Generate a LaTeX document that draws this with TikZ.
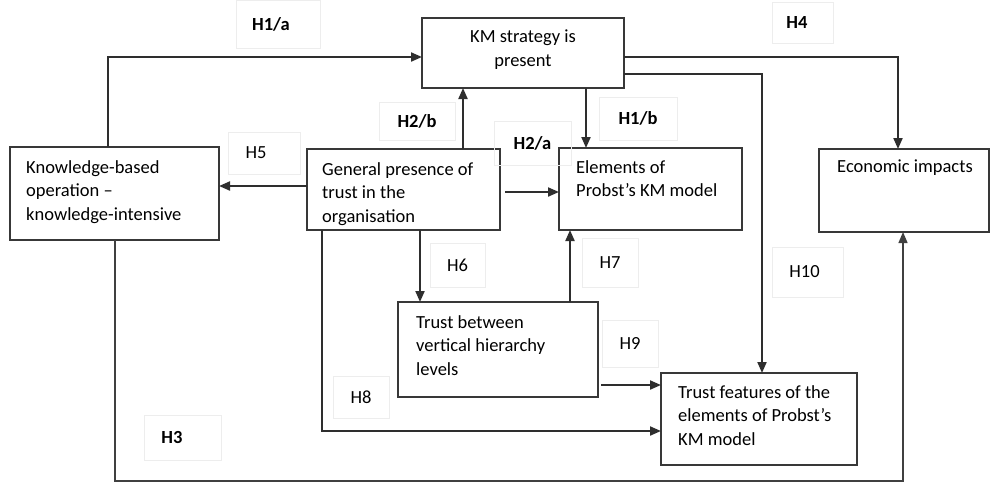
\documentclass[tikz,border=0pt]{standalone}
\usepackage{fontspec}
\setmainfont{Carlito}
\usetikzlibrary{arrows.meta}
\newcommand{\padr}[1]{\hspace*{#1}\mbox{}}
\begin{document}
\begin{tikzpicture}[x=1pt,y=-1pt,
  box/.style={draw=black!78,line width=1.5pt,inner sep=0pt,outer sep=0pt},
  txt/.style={anchor=north west,align=left,inner sep=0pt,font=\fontsize{18.5}{23.5}\selectfont},
  lbl/.style={draw=black!7,line width=0.6pt,inner sep=0pt,font=\fontsize{18.5}{22}\selectfont},
  blbl/.style={lbl,font=\fontsize{18.5}{22}\selectfont\bfseries},
  arr/.style={draw=black!82,line width=2pt,-{Triangle[length=11pt,width=9pt]}},
  thinarr/.style={draw=black!75,line width=1.3pt,-{Triangle[length=11pt,width=9pt]}}]
\useasboundingbox (0,0) rectangle (992,483);
% boxes
\node[box,minimum width=202pt,minimum height=70pt] (km) at (523,53) {};
\node[box,minimum width=209pt,minimum height=93pt] (kb) at (114.5,193.5) {};
\node[box,minimum width=193pt,minimum height=81pt] (gp) at (403.5,189.5) {};
\node[box,minimum width=183pt,minimum height=82pt] (el) at (650.5,189) {};
\node[box,minimum width=170pt,minimum height=83pt] (econ) at (904,190.5) {};
\node[box,minimum width=200pt,minimum height=95pt] (tb) at (498,349.5) {};
\node[box,minimum width=196pt,minimum height=92pt] (tf) at (759,419) {};
% box texts
\node[txt,anchor=north,align=center] (kmt) at (523,30) {KM strategy is\\present};
\node[txt] (kbt) at (26,160) {Knowledge-based\\operation –\\knowledge-intensive};
\node[txt] (gpt) at (322,162) {General presence of\\trust in the\\organisation};
\node[txt] (elt) at (576,160) {Elements of\\Probst’s KM model};
\node[txt] (econt) at (837,160) {Economic impacts};
\node[txt] (tbt) at (416,315) {Trust between\\vertical hierarchy\\levels};
\node[txt] (tft) at (678,385) {Trust features of the\\elements of Probst’s\\KM model};
% labels
\node[blbl,minimum width=84pt,minimum height=48pt] (h1a) at (278,24) {H1/a\padr{14pt}};
\node[blbl,minimum width=61pt,minimum height=41pt] (h4) at (802.5,22.5) {H4\padr{11pt}};
\node[blbl,minimum width=76pt,minimum height=38pt] (h2b) at (417,121) {H2/b};
\node[blbl,minimum width=77pt,minimum height=44pt] (h2a) at (532.5,143) {H2/a};
\node[blbl,minimum width=78pt,minimum height=43pt] (h1b) at (638,118.5) {H1/b};
\node[lbl,minimum width=72pt,minimum height=42pt] (h5) at (264,153) {H5\padr{16pt}};
\node[lbl,minimum width=55pt,minimum height=44pt] (h6) at (457.5,265) {H6};
\node[lbl,minimum width=56pt,minimum height=49pt] (h7) at (610,262.5) {H7};
\node[lbl,minimum width=71pt,minimum height=50pt] (h10) at (807.5,272) {H10\padr{6pt}};
\node[lbl,minimum width=56pt,minimum height=47pt] (h9) at (630,343.5) {H9};
\node[lbl,minimum width=56pt,minimum height=42pt] (h8) at (361,397) {H8};
\node[blbl,minimum width=77pt,minimum height=45pt] (h3) at (182.5,437.5) {H3\padr{21pt}};
% bend coordinates
\coordinate (b1) at (108,57);
\coordinate (b4) at (898,57);
\coordinate (b10) at (762,74);
\coordinate (c586) at (586,0);
\coordinate (c463) at (463,0);
\coordinate (c186) at (0,186);
\coordinate (s2a) at (505,192);
\coordinate (c420) at (420,0);
\coordinate (b8) at (322,431);
\coordinate (c570) at (570,0);
\coordinate (s9) at (601,385);
\coordinate (b3a) at (115,481);
\coordinate (b3b) at (903,481);
% connectors
\draw[arr] (kb.north -| b1) -- (b1) -- (km.west |- b1);
\draw[arr] (km.east |- b4) -- (b4) -- (econ.north -| b4);
\draw[arr] (km.east |- b10) -- (b10) -- (tf.north -| b10);
\draw[arr] (km.south -| c586) -- (el.north -| c586);
\draw[arr] (gp.north -| c463) -- (km.south -| c463);
\draw[arr] (gp.west |- c186) -- (kb.east |- c186);
\draw[arr] (s2a) -- (el.west |- s2a);
\draw[arr] (gp.south -| c420) -- (tb.north -| c420);
\draw[arr] (gp.south -| b8) -- (b8) -- (tf.west |- b8);
\draw[arr] (tb.north -| c570) -- (el.south -| c570);
\draw[arr] (s9) -- (tf.west |- s9);
\draw[thinarr] (kb.south -| b3a) -- (b3a) -- (b3b) -- (econ.south -| b3b);
\end{tikzpicture}
\end{document}
